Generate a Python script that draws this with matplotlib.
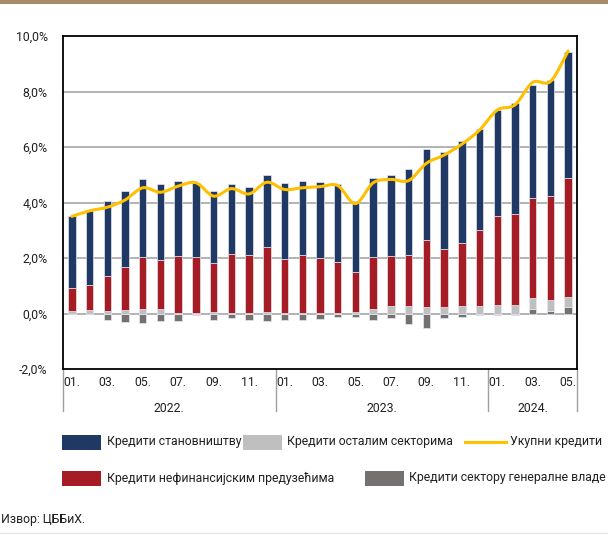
import numpy as np
import matplotlib
matplotlib.use("Agg")
import matplotlib.pyplot as plt
from matplotlib.patches import Rectangle
from matplotlib.lines import Line2D
from matplotlib.path import Path
from matplotlib.patches import PathPatch
import matplotlib.transforms as mtransforms

plt.rcParams['font.family'] = ['Roboto', 'DejaVu Sans']

# months Jan 2022 - May 2024
month_labels = ["01.", "", "03.", "", "05.", "", "07.", "", "09.", "", "11.", "",
                "01.", "", "03.", "", "05.", "", "07.", "", "09.", "", "11.", "",
                "01.", "", "03.", "", "05."]
years = ["2022.", "2023.", "2024."]
year_len = [12, 12, 5]

# contributions to credit growth, p.p.
households = [2.57, 2.70, 2.70, 2.73, 2.79, 2.72, 2.71, 2.67, 2.62, 2.53, 2.46, 2.59,
              2.73, 2.65, 2.75, 2.81, 2.58, 2.82, 2.92, 3.11, 3.29, 3.50, 3.66, 3.65,
              3.83, 3.99, 4.10, 4.19, 4.55]
enterprises = [0.83, 0.87, 1.27, 1.55, 1.87, 1.75, 2.06, 2.03, 1.76, 2.11, 2.09, 2.34,
               1.96, 2.09, 1.98, 1.84, 1.43, 1.89, 1.81, 1.83, 2.41, 2.09, 2.28, 2.72,
               3.21, 3.28, 3.59, 3.73, 4.29]
other_sectors = [0.10, 0.14, 0.08, 0.13, 0.17, 0.18, 0.02, 0.01, 0.05, 0.03, 0.02, 0.05,
                 0.02, 0.02, 0.02, 0.02, 0.06, 0.16, 0.27, 0.28, 0.23, 0.24, 0.27, 0.28,
                 0.30, 0.31, 0.38, 0.40, 0.34]
government = [0.0, 0.0, -0.25, -0.31, -0.34, -0.28, -0.27, -0.04, -0.23, -0.18, -0.24, -0.27,
              -0.24, -0.22, -0.20, -0.12, -0.13, -0.22, -0.18, -0.39, -0.51, -0.16, -0.13, -0.04,
              -0.04, -0.06, 0.18, 0.10, 0.24]
total = [3.50, 3.70, 3.83, 4.09, 4.53, 4.37, 4.59, 4.71, 4.23, 4.50, 4.31, 4.73,
         4.47, 4.53, 4.57, 4.61, 3.96, 4.71, 4.83, 4.79, 5.41, 5.71, 6.10, 6.61,
         7.33, 7.52, 8.33, 8.36, 9.46]

names = ["Кредити становништву", "Кредити осталим секторима", "Укупни кредити",
         "Кредити нефинансијским предузећима", "Кредити сектору генералне владе"]
c_hh, c_oth, c_tot, c_ent, c_gov = "#1F3864", "#BFBFBF", "#FFC000", "#A51C24", "#767171"

W, H = 608, 535
fs = 8.8
txt = "#231F20"
fig = plt.figure(figsize=(W / 100, H / 100), dpi=100)
ax = fig.add_axes([63 / W, 1 - 369 / H, 514 / W, 333 / H])

x = np.arange(len(total))
gov = np.array(government)
oth = np.array(other_sectors)
ent = np.array(enterprises)
hh = np.array(households)
b_oth = np.clip(gov, 0, None)
b_ent = b_oth + oth
b_hh = b_ent + ent

bw = 0.42
ek = dict(edgecolor="#E4E8F0", linewidth=0.5, zorder=3)
ax.bar(x, gov, bw, color=c_gov, **ek)
ax.bar(x, oth, bw, bottom=b_oth, color=c_oth, **ek)
ax.bar(x, ent, bw, bottom=b_ent, color=c_ent, **ek)
ax.bar(x, hh, bw, bottom=b_hh, color=c_hh, **ek)

# smoothed total line (Catmull-Rom through the data points)
p = np.column_stack([x, total]).astype(float)
pp = np.vstack([p[0], p, p[-1]])
verts = [tuple(p[0])]
codes = [Path.MOVETO]
for i in range(1, len(pp) - 2):
    c1 = pp[i] + (pp[i + 1] - pp[i - 1]) / 6
    c2 = pp[i + 1] - (pp[i + 2] - pp[i]) / 6
    verts += [tuple(c1), tuple(c2), tuple(pp[i + 1])]
    codes += [Path.CURVE4] * 3
ax.add_patch(PathPatch(Path(verts, codes), facecolor="none", edgecolor=c_tot,
                       lw=2.2, zorder=4, capstyle="round", joinstyle="round"))

ax.set_xlim(-0.5, len(total) - 0.5)
ax.set_ylim(-2, 10)
ax.set_yticks(np.arange(-2, 10.1, 2))
ax.set_yticklabels([f"{v:.1f}%".replace(".", ",") for v in np.arange(-2, 10.1, 2)])
for v in [0, 2, 4, 6, 8]:
    ax.axhline(v, color="#A6A6A6", lw=1.2, zorder=1)
ax.set_xticks(x)
ax.set_xticklabels(month_labels)
ax.tick_params(axis="both", length=0, labelsize=fs, colors=txt)
ax.tick_params(axis="y", pad=11)
ax.tick_params(axis="x", pad=5)
for s in ax.spines.values():
    s.set_color("black")
    s.set_linewidth(1.3)

# year groups under the axis
tr = mtransforms.blended_transform_factory(ax.transData, ax.transAxes)
edges = np.concatenate([[0], np.cumsum(year_len)]) - 0.5
for e in edges:
    ax.add_line(Line2D([e, e], [0, -0.125], transform=tr, color="#A0A0A0",
                       lw=1.0, clip_on=False))
for yr, a, b in zip(years, edges[:-1], edges[1:]):
    ax.text((a + b) / 2, -0.118, yr, transform=tr, ha="center", va="center",
            fontsize=fs, color=txt)

# legend
def patch(px, py, col):
    fig.add_artist(Rectangle((px / W, 1 - (py + 15) / H), 39 / W, 15 / H,
                             facecolor=col, edgecolor="none", transform=fig.transFigure))

def label(px, py, s):
    fig.text(px / W, 1 - py / H, s, ha="left", va="center", fontsize=fs, color=txt)

patch(62, 435, c_hh); label(107, 442, names[0])
patch(243, 435, c_oth); label(287, 442, names[1])
fig.add_artist(Line2D([465 / W, 506 / W], [1 - 442 / H] * 2, color=c_tot, lw=2.2,
                      transform=fig.transFigure))
label(510, 442, names[2])
patch(62, 471, c_ent); label(107, 478, names[3])
patch(365, 471, c_gov); label(409, 478, names[4])

fig.text(1 / W, 1 - 520 / H, "Извор: ЦББиХ.", ha="left", va="center", fontsize=fs,
         color=txt)

# top band and bottom rule
fig.add_artist(Rectangle((0, 1 - 4 / H), 1, 4 / H, facecolor="#A68B6B",
                         edgecolor="none", transform=fig.transFigure))
fig.add_artist(Line2D([0, 1], [1 - 533 / H] * 2, color="#E6E6E6", lw=1.0,
                      transform=fig.transFigure))

fig.savefig("out.png", dpi=100)
